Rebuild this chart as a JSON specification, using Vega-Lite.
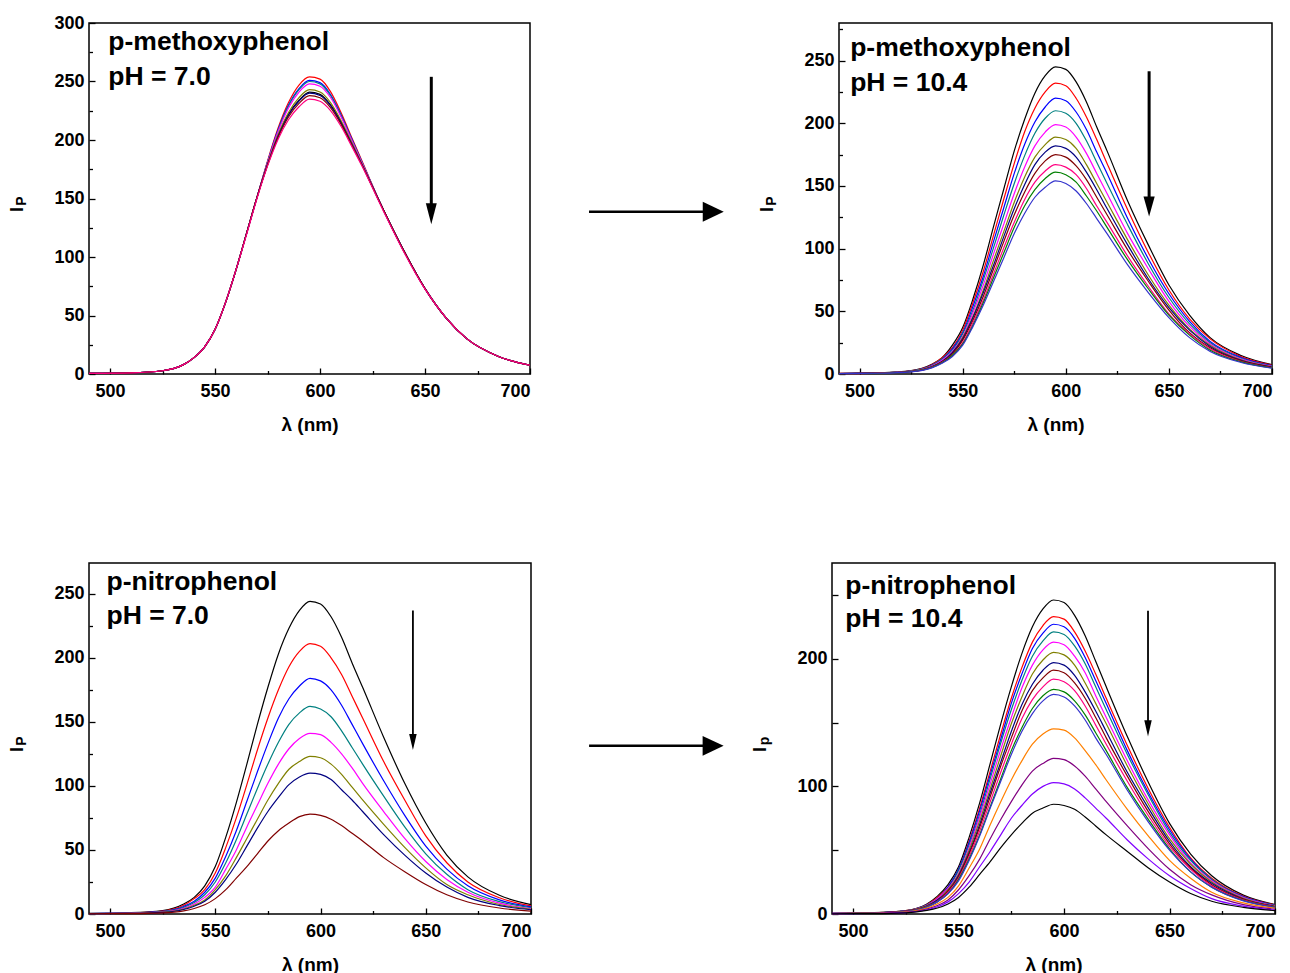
{
"$schema": "https://vega.github.io/schema/vega-lite/v6.json",
"background": "#ffffff",
"padding": {"left": 8, "top": 13, "right": 2, "bottom": 2},
"spacing": 127,
"config": {
  "view": {"stroke": "#000000", "strokeWidth": 1.5},
  "font": "Liberation Sans",
  "axis": {"labelFont": "Liberation Sans", "labelFontSize": 18, "labelFontWeight": "bold", "labelColor": "#000000", "titleFont": "Liberation Sans", "titleFontSize": 19, "titleFontWeight": "bold", "titleColor": "#000000", "tickColor": "#000000", "tickWidth": 1.3, "domain": false, "grid": false}
},
"datasets": {
"m7": [
{"s":0,"x":490,"y":0.5},{"s":0,"x":510,"y":1},{"s":0,"x":525,"y":2.8},{"s":0,"x":535,"y":8},{"s":0,"x":540,"y":14},{"s":0,"x":545,"y":23},{"s":0,"x":550,"y":38},{"s":0,"x":555,"y":61},{"s":0,"x":560,"y":89},{"s":0,"x":565,"y":120},{"s":0,"x":570,"y":151},{"s":0,"x":575,"y":179},{"s":0,"x":580,"y":203.5},{"s":0,"x":585,"y":222},{"s":0,"x":590,"y":234},{"s":0,"x":595,"y":241},{"s":0,"x":600,"y":239},{"s":0,"x":605,"y":230},{"s":0,"x":610,"y":215.4},{"s":0,"x":615,"y":197.4},{"s":0,"x":620,"y":179},{"s":0,"x":630,"y":141},{"s":0,"x":640,"y":105},{"s":0,"x":650,"y":73},{"s":0,"x":660,"y":48},{"s":0,"x":670,"y":30},{"s":0,"x":685,"y":15},{"s":0,"x":700,"y":7.5},
{"s":1,"x":490,"y":0.5},{"s":1,"x":510,"y":1},{"s":1,"x":525,"y":2.8},{"s":1,"x":535,"y":8},{"s":1,"x":540,"y":14},{"s":1,"x":545,"y":23},{"s":1,"x":550,"y":38},{"s":1,"x":555,"y":61},{"s":1,"x":560,"y":89},{"s":1,"x":565,"y":120},{"s":1,"x":570,"y":151},{"s":1,"x":575,"y":182},{"s":1,"x":580,"y":210},{"s":1,"x":585,"y":232},{"s":1,"x":590,"y":247},{"s":1,"x":595,"y":254},{"s":1,"x":600,"y":252},{"s":1,"x":605,"y":241.4},{"s":1,"x":610,"y":223.5},{"s":1,"x":615,"y":202.6},{"s":1,"x":620,"y":182},{"s":1,"x":630,"y":141},{"s":1,"x":640,"y":105},{"s":1,"x":650,"y":73},{"s":1,"x":660,"y":48},{"s":1,"x":670,"y":30},{"s":1,"x":685,"y":15},{"s":1,"x":700,"y":7.5},
{"s":2,"x":490,"y":0.5},{"s":2,"x":510,"y":1},{"s":2,"x":525,"y":2.8},{"s":2,"x":535,"y":8},{"s":2,"x":540,"y":14},{"s":2,"x":545,"y":23},{"s":2,"x":550,"y":38},{"s":2,"x":555,"y":61},{"s":2,"x":560,"y":89},{"s":2,"x":565,"y":120},{"s":2,"x":570,"y":151},{"s":2,"x":575,"y":181},{"s":2,"x":580,"y":208.5},{"s":2,"x":585,"y":229.8},{"s":2,"x":590,"y":244},{"s":2,"x":595,"y":251},{"s":2,"x":600,"y":249},{"s":2,"x":605,"y":238.9},{"s":2,"x":610,"y":221.6},{"s":2,"x":615,"y":201.4},{"s":2,"x":620,"y":181},{"s":2,"x":630,"y":141},{"s":2,"x":640,"y":105},{"s":2,"x":650,"y":73},{"s":2,"x":660,"y":48},{"s":2,"x":670,"y":30},{"s":2,"x":685,"y":15},{"s":2,"x":700,"y":7.5},
{"s":3,"x":490,"y":0.5},{"s":3,"x":510,"y":1},{"s":3,"x":525,"y":2.8},{"s":3,"x":535,"y":8},{"s":3,"x":540,"y":14},{"s":3,"x":545,"y":23},{"s":3,"x":550,"y":38},{"s":3,"x":555,"y":61},{"s":3,"x":560,"y":89},{"s":3,"x":565,"y":120},{"s":3,"x":570,"y":151},{"s":3,"x":575,"y":181},{"s":3,"x":580,"y":208},{"s":3,"x":585,"y":229},{"s":3,"x":590,"y":243},{"s":3,"x":595,"y":250},{"s":3,"x":600,"y":248},{"s":3,"x":605,"y":238},{"s":3,"x":610,"y":221},{"s":3,"x":615,"y":201},{"s":3,"x":620,"y":181},{"s":3,"x":630,"y":141},{"s":3,"x":640,"y":105},{"s":3,"x":650,"y":73},{"s":3,"x":660,"y":48},{"s":3,"x":670,"y":30},{"s":3,"x":685,"y":15},{"s":3,"x":700,"y":7.5},
{"s":4,"x":490,"y":0.5},{"s":4,"x":510,"y":1},{"s":4,"x":525,"y":2.8},{"s":4,"x":535,"y":8},{"s":4,"x":540,"y":14},{"s":4,"x":545,"y":23},{"s":4,"x":550,"y":38},{"s":4,"x":555,"y":61},{"s":4,"x":560,"y":89},{"s":4,"x":565,"y":120},{"s":4,"x":570,"y":151},{"s":4,"x":575,"y":180.6},{"s":4,"x":580,"y":207},{"s":4,"x":585,"y":227.4},{"s":4,"x":590,"y":241},{"s":4,"x":595,"y":248},{"s":4,"x":600,"y":246},{"s":4,"x":605,"y":236.3},{"s":4,"x":610,"y":219.8},{"s":4,"x":615,"y":200.2},{"s":4,"x":620,"y":180.6},{"s":4,"x":630,"y":141},{"s":4,"x":640,"y":105},{"s":4,"x":650,"y":73},{"s":4,"x":660,"y":48},{"s":4,"x":670,"y":30},{"s":4,"x":685,"y":15},{"s":4,"x":700,"y":7.5},
{"s":5,"x":490,"y":0.5},{"s":5,"x":510,"y":1},{"s":5,"x":525,"y":2.8},{"s":5,"x":535,"y":8},{"s":5,"x":540,"y":14},{"s":5,"x":545,"y":23},{"s":5,"x":550,"y":38},{"s":5,"x":555,"y":61},{"s":5,"x":560,"y":89},{"s":5,"x":565,"y":120},{"s":5,"x":570,"y":151},{"s":5,"x":575,"y":179.5},{"s":5,"x":580,"y":204.5},{"s":5,"x":585,"y":223.5},{"s":5,"x":590,"y":236.2},{"s":5,"x":595,"y":243},{"s":5,"x":600,"y":241},{"s":5,"x":605,"y":232},{"s":5,"x":610,"y":216.7},{"s":5,"x":615,"y":198.2},{"s":5,"x":620,"y":179.5},{"s":5,"x":630,"y":141},{"s":5,"x":640,"y":105},{"s":5,"x":650,"y":73},{"s":5,"x":660,"y":48},{"s":5,"x":670,"y":30},{"s":5,"x":685,"y":15},{"s":5,"x":700,"y":7.5},
{"s":6,"x":490,"y":0.5},{"s":6,"x":510,"y":1},{"s":6,"x":525,"y":2.8},{"s":6,"x":535,"y":8},{"s":6,"x":540,"y":14},{"s":6,"x":545,"y":23},{"s":6,"x":550,"y":38},{"s":6,"x":555,"y":61},{"s":6,"x":560,"y":89},{"s":6,"x":565,"y":120},{"s":6,"x":570,"y":151},{"s":6,"x":575,"y":178.8},{"s":6,"x":580,"y":203},{"s":6,"x":585,"y":221.2},{"s":6,"x":590,"y":233.3},{"s":6,"x":595,"y":240},{"s":6,"x":600,"y":238},{"s":6,"x":605,"y":229.4},{"s":6,"x":610,"y":214.8},{"s":6,"x":615,"y":197},{"s":6,"x":620,"y":178.8},{"s":6,"x":630,"y":141},{"s":6,"x":640,"y":105},{"s":6,"x":650,"y":73},{"s":6,"x":660,"y":48},{"s":6,"x":670,"y":30},{"s":6,"x":685,"y":15},{"s":6,"x":700,"y":7.5},
{"s":7,"x":490,"y":0.5},{"s":7,"x":510,"y":1},{"s":7,"x":525,"y":2.8},{"s":7,"x":535,"y":8},{"s":7,"x":540,"y":14},{"s":7,"x":545,"y":23},{"s":7,"x":550,"y":38},{"s":7,"x":555,"y":61},{"s":7,"x":560,"y":89},{"s":7,"x":565,"y":120},{"s":7,"x":570,"y":151},{"s":7,"x":575,"y":178.4},{"s":7,"x":580,"y":202},{"s":7,"x":585,"y":219.7},{"s":7,"x":590,"y":231.3},{"s":7,"x":595,"y":238},{"s":7,"x":600,"y":236.1},{"s":7,"x":605,"y":227.7},{"s":7,"x":610,"y":213.6},{"s":7,"x":615,"y":196.2},{"s":7,"x":620,"y":178.4},{"s":7,"x":630,"y":141},{"s":7,"x":640,"y":105},{"s":7,"x":650,"y":73},{"s":7,"x":660,"y":48},{"s":7,"x":670,"y":30},{"s":7,"x":685,"y":15},{"s":7,"x":700,"y":7.5},
{"s":8,"x":490,"y":0.5},{"s":8,"x":510,"y":1},{"s":8,"x":525,"y":2.8},{"s":8,"x":535,"y":8},{"s":8,"x":540,"y":14},{"s":8,"x":545,"y":23},{"s":8,"x":550,"y":38},{"s":8,"x":555,"y":61},{"s":8,"x":560,"y":89},{"s":8,"x":565,"y":119},{"s":8,"x":570,"y":150},{"s":8,"x":575,"y":177.7},{"s":8,"x":580,"y":200.5},{"s":8,"x":585,"y":217.3},{"s":8,"x":590,"y":228.4},{"s":8,"x":595,"y":235},{"s":8,"x":600,"y":233.1},{"s":8,"x":605,"y":225.1},{"s":8,"x":610,"y":211.7},{"s":8,"x":615,"y":195},{"s":8,"x":620,"y":177.7},{"s":8,"x":630,"y":140},{"s":8,"x":640,"y":104},{"s":8,"x":650,"y":72.5},{"s":8,"x":660,"y":48},{"s":8,"x":670,"y":30},{"s":8,"x":685,"y":15},{"s":8,"x":700,"y":7.5}
],
"m10": [
{"s":9,"x":490,"y":0.5},{"s":9,"x":510,"y":1},{"s":9,"x":525,"y":2.7},{"s":9,"x":535,"y":7.8},{"s":9,"x":540,"y":13},{"s":9,"x":545,"y":23},{"s":9,"x":550,"y":37},{"s":9,"x":555,"y":60},{"s":9,"x":560,"y":87},{"s":9,"x":565,"y":118},{"s":9,"x":570,"y":148},{"s":9,"x":575,"y":178},{"s":9,"x":580,"y":203},{"s":9,"x":585,"y":224},{"s":9,"x":590,"y":238},{"s":9,"x":595,"y":245},{"s":9,"x":600,"y":243},{"s":9,"x":605,"y":233},{"s":9,"x":610,"y":217},{"s":9,"x":615,"y":197},{"s":9,"x":620,"y":178},{"s":9,"x":630,"y":138},{"s":9,"x":640,"y":103},{"s":9,"x":650,"y":71},{"s":9,"x":660,"y":47},{"s":9,"x":670,"y":29},{"s":9,"x":685,"y":14.7},{"s":9,"x":700,"y":7.4},
{"s":10,"x":490,"y":0.5},{"s":10,"x":510,"y":0.9},{"s":10,"x":525,"y":2.6},{"s":10,"x":535,"y":7.4},{"s":10,"x":540,"y":13},{"s":10,"x":545,"y":21},{"s":10,"x":550,"y":35},{"s":10,"x":555,"y":57},{"s":10,"x":560,"y":82},{"s":10,"x":565,"y":111},{"s":10,"x":570,"y":140},{"s":10,"x":575,"y":168},{"s":10,"x":580,"y":193},{"s":10,"x":585,"y":212},{"s":10,"x":590,"y":225},{"s":10,"x":595,"y":232},{"s":10,"x":600,"y":230},{"s":10,"x":605,"y":220},{"s":10,"x":610,"y":205},{"s":10,"x":615,"y":187},{"s":10,"x":620,"y":168},{"s":10,"x":630,"y":131},{"s":10,"x":640,"y":97},{"s":10,"x":650,"y":67},{"s":10,"x":660,"y":44},{"s":10,"x":670,"y":28},{"s":10,"x":685,"y":13.9},{"s":10,"x":700,"y":7},
{"s":11,"x":490,"y":0.4},{"s":11,"x":510,"y":0.9},{"s":11,"x":525,"y":2.4},{"s":11,"x":535,"y":7},{"s":11,"x":540,"y":12},{"s":11,"x":545,"y":20},{"s":11,"x":550,"y":33},{"s":11,"x":555,"y":54},{"s":11,"x":560,"y":78},{"s":11,"x":565,"y":106},{"s":11,"x":570,"y":133},{"s":11,"x":575,"y":160},{"s":11,"x":580,"y":183},{"s":11,"x":585,"y":201},{"s":11,"x":590,"y":213},{"s":11,"x":595,"y":220},{"s":11,"x":600,"y":218},{"s":11,"x":605,"y":209},{"s":11,"x":610,"y":195},{"s":11,"x":615,"y":177},{"s":11,"x":620,"y":160},{"s":11,"x":630,"y":124},{"s":11,"x":640,"y":92},{"s":11,"x":650,"y":64},{"s":11,"x":660,"y":42},{"s":11,"x":670,"y":26},{"s":11,"x":685,"y":13.2},{"s":11,"x":700,"y":6.6},
{"s":12,"x":490,"y":0.4},{"s":12,"x":510,"y":0.8},{"s":12,"x":525,"y":2.3},{"s":12,"x":535,"y":6.7},{"s":12,"x":540,"y":12},{"s":12,"x":545,"y":19},{"s":12,"x":550,"y":32},{"s":12,"x":555,"y":51},{"s":12,"x":560,"y":75},{"s":12,"x":565,"y":101},{"s":12,"x":570,"y":127},{"s":12,"x":575,"y":152},{"s":12,"x":580,"y":174},{"s":12,"x":585,"y":192},{"s":12,"x":590,"y":204},{"s":12,"x":595,"y":210},{"s":12,"x":600,"y":208},{"s":12,"x":605,"y":200},{"s":12,"x":610,"y":186},{"s":12,"x":615,"y":169},{"s":12,"x":620,"y":152},{"s":12,"x":630,"y":119},{"s":12,"x":640,"y":88},{"s":12,"x":650,"y":61},{"s":12,"x":660,"y":40},{"s":12,"x":670,"y":25},{"s":12,"x":685,"y":12.6},{"s":12,"x":700,"y":6.3},
{"s":13,"x":490,"y":0.4},{"s":13,"x":510,"y":0.8},{"s":13,"x":525,"y":2.2},{"s":13,"x":535,"y":6.4},{"s":13,"x":540,"y":11},{"s":13,"x":545,"y":18},{"s":13,"x":550,"y":30},{"s":13,"x":555,"y":49},{"s":13,"x":560,"y":71},{"s":13,"x":565,"y":96},{"s":13,"x":570,"y":120},{"s":13,"x":575,"y":144},{"s":13,"x":580,"y":165},{"s":13,"x":585,"y":182},{"s":13,"x":590,"y":193},{"s":13,"x":595,"y":199},{"s":13,"x":600,"y":197},{"s":13,"x":605,"y":189},{"s":13,"x":610,"y":176},{"s":13,"x":615,"y":160},{"s":13,"x":620,"y":144},{"s":13,"x":630,"y":112},{"s":13,"x":640,"y":84},{"s":13,"x":650,"y":58},{"s":13,"x":660,"y":38},{"s":13,"x":670,"y":24},{"s":13,"x":685,"y":11.9},{"s":13,"x":700,"y":6},
{"s":14,"x":490,"y":0.4},{"s":14,"x":510,"y":0.8},{"s":14,"x":525,"y":2.1},{"s":14,"x":535,"y":6},{"s":14,"x":540,"y":10},{"s":14,"x":545,"y":17},{"s":14,"x":550,"y":29},{"s":14,"x":555,"y":46},{"s":14,"x":560,"y":67},{"s":14,"x":565,"y":91},{"s":14,"x":570,"y":114},{"s":14,"x":575,"y":137},{"s":14,"x":580,"y":157},{"s":14,"x":585,"y":173},{"s":14,"x":590,"y":183},{"s":14,"x":595,"y":189},{"s":14,"x":600,"y":187},{"s":14,"x":605,"y":180},{"s":14,"x":610,"y":167},{"s":14,"x":615,"y":152},{"s":14,"x":620,"y":137},{"s":14,"x":630,"y":107},{"s":14,"x":640,"y":79},{"s":14,"x":650,"y":55},{"s":14,"x":660,"y":36},{"s":14,"x":670,"y":23},{"s":14,"x":685,"y":11.3},{"s":14,"x":700,"y":5.7},
{"s":15,"x":490,"y":0.4},{"s":15,"x":510,"y":0.7},{"s":15,"x":525,"y":2},{"s":15,"x":535,"y":5.8},{"s":15,"x":540,"y":10},{"s":15,"x":545,"y":17},{"s":15,"x":550,"y":28},{"s":15,"x":555,"y":45},{"s":15,"x":560,"y":65},{"s":15,"x":565,"y":87},{"s":15,"x":570,"y":110},{"s":15,"x":575,"y":132},{"s":15,"x":580,"y":151},{"s":15,"x":585,"y":167},{"s":15,"x":590,"y":177},{"s":15,"x":595,"y":182},{"s":15,"x":600,"y":180},{"s":15,"x":605,"y":173},{"s":15,"x":610,"y":161},{"s":15,"x":615,"y":147},{"s":15,"x":620,"y":132},{"s":15,"x":630,"y":103},{"s":15,"x":640,"y":76},{"s":15,"x":650,"y":53},{"s":15,"x":660,"y":35},{"s":15,"x":670,"y":22},{"s":15,"x":685,"y":10.9},{"s":15,"x":700,"y":5.5},
{"s":16,"x":490,"y":0.4},{"s":16,"x":510,"y":0.7},{"s":16,"x":525,"y":1.9},{"s":16,"x":535,"y":5.6},{"s":16,"x":540,"y":9.6},{"s":16,"x":545,"y":16},{"s":16,"x":550,"y":27},{"s":16,"x":555,"y":43},{"s":16,"x":560,"y":62},{"s":16,"x":565,"y":84},{"s":16,"x":570,"y":106},{"s":16,"x":575,"y":127},{"s":16,"x":580,"y":145},{"s":16,"x":585,"y":160},{"s":16,"x":590,"y":170},{"s":16,"x":595,"y":175},{"s":16,"x":600,"y":173},{"s":16,"x":605,"y":166},{"s":16,"x":610,"y":155},{"s":16,"x":615,"y":141},{"s":16,"x":620,"y":127},{"s":16,"x":630,"y":99},{"s":16,"x":640,"y":74},{"s":16,"x":650,"y":51},{"s":16,"x":660,"y":33},{"s":16,"x":670,"y":21},{"s":16,"x":685,"y":10.5},{"s":16,"x":700,"y":5.3},
{"s":17,"x":490,"y":0.3},{"s":17,"x":510,"y":0.7},{"s":17,"x":525,"y":1.8},{"s":17,"x":535,"y":5.3},{"s":17,"x":540,"y":9.2},{"s":17,"x":545,"y":15},{"s":17,"x":550,"y":25},{"s":17,"x":555,"y":41},{"s":17,"x":560,"y":59},{"s":17,"x":565,"y":80},{"s":17,"x":570,"y":101},{"s":17,"x":575,"y":121},{"s":17,"x":580,"y":139},{"s":17,"x":585,"y":153},{"s":17,"x":590,"y":162},{"s":17,"x":595,"y":167},{"s":17,"x":600,"y":165},{"s":17,"x":605,"y":159},{"s":17,"x":610,"y":148},{"s":17,"x":615,"y":134},{"s":17,"x":620,"y":121},{"s":17,"x":630,"y":94},{"s":17,"x":640,"y":70},{"s":17,"x":650,"y":48},{"s":17,"x":660,"y":32},{"s":17,"x":670,"y":20},{"s":17,"x":685,"y":10},{"s":17,"x":700,"y":5},
{"s":18,"x":490,"y":0.3},{"s":18,"x":510,"y":0.6},{"s":18,"x":525,"y":1.8},{"s":18,"x":535,"y":5.2},{"s":18,"x":540,"y":8.9},{"s":18,"x":545,"y":15},{"s":18,"x":550,"y":24},{"s":18,"x":555,"y":39},{"s":18,"x":560,"y":57},{"s":18,"x":565,"y":77},{"s":18,"x":570,"y":97},{"s":18,"x":575,"y":117},{"s":18,"x":580,"y":134},{"s":18,"x":585,"y":147},{"s":18,"x":590,"y":156},{"s":18,"x":595,"y":161},{"s":18,"x":600,"y":159},{"s":18,"x":605,"y":153},{"s":18,"x":610,"y":142},{"s":18,"x":615,"y":130},{"s":18,"x":620,"y":117},{"s":18,"x":630,"y":91},{"s":18,"x":640,"y":68},{"s":18,"x":650,"y":47},{"s":18,"x":660,"y":31},{"s":18,"x":670,"y":19},{"s":18,"x":685,"y":9.7},{"s":18,"x":700,"y":4.8},
{"s":19,"x":490,"y":0.3},{"s":19,"x":510,"y":0.6},{"s":19,"x":525,"y":1.7},{"s":19,"x":535,"y":4.9},{"s":19,"x":540,"y":8.5},{"s":19,"x":545,"y":14},{"s":19,"x":550,"y":23},{"s":19,"x":555,"y":38},{"s":19,"x":560,"y":55},{"s":19,"x":565,"y":74},{"s":19,"x":570,"y":93},{"s":19,"x":575,"y":112},{"s":19,"x":580,"y":128},{"s":19,"x":585,"y":141},{"s":19,"x":590,"y":149},{"s":19,"x":595,"y":154},{"s":19,"x":600,"y":152},{"s":19,"x":605,"y":146},{"s":19,"x":610,"y":136},{"s":19,"x":615,"y":124},{"s":19,"x":620,"y":112},{"s":19,"x":630,"y":87},{"s":19,"x":640,"y":65},{"s":19,"x":650,"y":45},{"s":19,"x":660,"y":29},{"s":19,"x":670,"y":18},{"s":19,"x":685,"y":9.2},{"s":19,"x":700,"y":4.6}
],
"n7": [
{"s":20,"x":490,"y":0.5},{"s":20,"x":510,"y":1},{"s":20,"x":525,"y":2.7},{"s":20,"x":535,"y":7.8},{"s":20,"x":540,"y":13},{"s":20,"x":545,"y":22},{"s":20,"x":550,"y":37},{"s":20,"x":555,"y":60},{"s":20,"x":560,"y":87},{"s":20,"x":565,"y":117},{"s":20,"x":570,"y":148},{"s":20,"x":575,"y":177},{"s":20,"x":580,"y":203},{"s":20,"x":585,"y":223},{"s":20,"x":590,"y":237},{"s":20,"x":595,"y":244},{"s":20,"x":600,"y":242},{"s":20,"x":605,"y":232},{"s":20,"x":610,"y":216},{"s":20,"x":615,"y":196},{"s":20,"x":620,"y":177},{"s":20,"x":630,"y":138},{"s":20,"x":640,"y":102},{"s":20,"x":650,"y":71},{"s":20,"x":660,"y":46},{"s":20,"x":670,"y":29},{"s":20,"x":685,"y":14.6},{"s":20,"x":700,"y":7.3},
{"s":21,"x":490,"y":0.4},{"s":21,"x":510,"y":0.8},{"s":21,"x":525,"y":2.3},{"s":21,"x":535,"y":6.8},{"s":21,"x":540,"y":12},{"s":21,"x":545,"y":19},{"s":21,"x":550,"y":32},{"s":21,"x":555,"y":52},{"s":21,"x":560,"y":75},{"s":21,"x":565,"y":101},{"s":21,"x":570,"y":128},{"s":21,"x":575,"y":153},{"s":21,"x":580,"y":175},{"s":21,"x":585,"y":193},{"s":21,"x":590,"y":205},{"s":21,"x":595,"y":211},{"s":21,"x":600,"y":209},{"s":21,"x":605,"y":200},{"s":21,"x":610,"y":187},{"s":21,"x":615,"y":170},{"s":21,"x":620,"y":153},{"s":21,"x":630,"y":119},{"s":21,"x":640,"y":89},{"s":21,"x":650,"y":61},{"s":21,"x":660,"y":40},{"s":21,"x":670,"y":25},{"s":21,"x":685,"y":12.7},{"s":21,"x":700,"y":6.3},
{"s":22,"x":490,"y":0.4},{"s":22,"x":510,"y":0.7},{"s":22,"x":525,"y":2},{"s":22,"x":535,"y":5.9},{"s":22,"x":540,"y":10},{"s":22,"x":545,"y":17},{"s":22,"x":550,"y":28},{"s":22,"x":555,"y":45},{"s":22,"x":560,"y":65},{"s":22,"x":565,"y":88},{"s":22,"x":570,"y":111},{"s":22,"x":575,"y":133},{"s":22,"x":580,"y":153},{"s":22,"x":585,"y":168},{"s":22,"x":590,"y":178},{"s":22,"x":595,"y":184},{"s":22,"x":600,"y":182},{"s":22,"x":605,"y":175},{"s":22,"x":610,"y":163},{"s":22,"x":615,"y":148},{"s":22,"x":620,"y":133},{"s":22,"x":630,"y":104},{"s":22,"x":640,"y":77},{"s":22,"x":650,"y":53},{"s":22,"x":660,"y":35},{"s":22,"x":670,"y":22},{"s":22,"x":685,"y":11},{"s":22,"x":700,"y":5.5},
{"s":23,"x":490,"y":0.3},{"s":23,"x":510,"y":0.6},{"s":23,"x":525,"y":1.8},{"s":23,"x":535,"y":5.2},{"s":23,"x":540,"y":8.9},{"s":23,"x":545,"y":15},{"s":23,"x":550,"y":25},{"s":23,"x":555,"y":40},{"s":23,"x":560,"y":58},{"s":23,"x":565,"y":78},{"s":23,"x":570,"y":98},{"s":23,"x":575,"y":117},{"s":23,"x":580,"y":134},{"s":23,"x":585,"y":148},{"s":23,"x":590,"y":157},{"s":23,"x":595,"y":162},{"s":23,"x":600,"y":160},{"s":23,"x":605,"y":154},{"s":23,"x":610,"y":143},{"s":23,"x":615,"y":130},{"s":23,"x":620,"y":117},{"s":23,"x":630,"y":92},{"s":23,"x":640,"y":68},{"s":23,"x":650,"y":47},{"s":23,"x":660,"y":31},{"s":23,"x":670,"y":19},{"s":23,"x":685,"y":9.7},{"s":23,"x":700,"y":4.9},
{"s":24,"x":490,"y":0.3},{"s":24,"x":510,"y":0.6},{"s":24,"x":525,"y":1.6},{"s":24,"x":535,"y":4.5},{"s":24,"x":540,"y":7.8},{"s":24,"x":545,"y":13},{"s":24,"x":550,"y":21},{"s":24,"x":555,"y":35},{"s":24,"x":560,"y":50},{"s":24,"x":565,"y":68},{"s":24,"x":570,"y":85},{"s":24,"x":575,"y":102},{"s":24,"x":580,"y":117},{"s":24,"x":585,"y":129},{"s":24,"x":590,"y":137},{"s":24,"x":595,"y":141},{"s":24,"x":600,"y":140},{"s":24,"x":605,"y":134},{"s":24,"x":610,"y":125},{"s":24,"x":615,"y":114},{"s":24,"x":620,"y":102},{"s":24,"x":630,"y":80},{"s":24,"x":640,"y":59},{"s":24,"x":650,"y":41},{"s":24,"x":660,"y":27},{"s":24,"x":670,"y":17},{"s":24,"x":685,"y":8.5},{"s":24,"x":700,"y":4.2},
{"s":25,"x":490,"y":0.2},{"s":25,"x":510,"y":0.5},{"s":25,"x":525,"y":1.4},{"s":25,"x":535,"y":3.9},{"s":25,"x":540,"y":6.8},{"s":25,"x":545,"y":11},{"s":25,"x":550,"y":19},{"s":25,"x":555,"y":30},{"s":25,"x":560,"y":44},{"s":25,"x":565,"y":59},{"s":25,"x":570,"y":74},{"s":25,"x":575,"y":89},{"s":25,"x":580,"y":102},{"s":25,"x":585,"y":113},{"s":25,"x":590,"y":119},{"s":25,"x":595,"y":123},{"s":25,"x":600,"y":122},{"s":25,"x":605,"y":117},{"s":25,"x":610,"y":109},{"s":25,"x":615,"y":99},{"s":25,"x":620,"y":89},{"s":25,"x":630,"y":70},{"s":25,"x":640,"y":52},{"s":25,"x":650,"y":36},{"s":25,"x":660,"y":23},{"s":25,"x":670,"y":15},{"s":25,"x":685,"y":7.4},{"s":25,"x":700,"y":3.7},
{"s":26,"x":490,"y":0.2},{"s":26,"x":510,"y":0.4},{"s":26,"x":525,"y":1.2},{"s":26,"x":535,"y":3.5},{"s":26,"x":540,"y":6.1},{"s":26,"x":545,"y":10},{"s":26,"x":550,"y":17},{"s":26,"x":555,"y":27},{"s":26,"x":560,"y":39},{"s":26,"x":565,"y":53},{"s":26,"x":570,"y":67},{"s":26,"x":575,"y":80},{"s":26,"x":580,"y":91},{"s":26,"x":585,"y":101},{"s":26,"x":590,"y":107},{"s":26,"x":595,"y":110},{"s":26,"x":600,"y":109},{"s":26,"x":605,"y":105},{"s":26,"x":610,"y":97},{"s":26,"x":615,"y":89},{"s":26,"x":620,"y":80},{"s":26,"x":630,"y":62},{"s":26,"x":640,"y":46},{"s":26,"x":650,"y":32},{"s":26,"x":660,"y":21},{"s":26,"x":670,"y":13},{"s":26,"x":685,"y":6.6},{"s":26,"x":700,"y":3.3},
{"s":27,"x":490,"y":0.2},{"s":27,"x":510,"y":0.3},{"s":27,"x":525,"y":0.9},{"s":27,"x":535,"y":2.5},{"s":27,"x":540,"y":4.3},{"s":27,"x":545,"y":7.2},{"s":27,"x":550,"y":12},{"s":27,"x":555,"y":19},{"s":27,"x":560,"y":28},{"s":27,"x":565,"y":37},{"s":27,"x":570,"y":47},{"s":27,"x":575,"y":57},{"s":27,"x":580,"y":65},{"s":27,"x":585,"y":71},{"s":27,"x":590,"y":76},{"s":27,"x":595,"y":78},{"s":27,"x":600,"y":77},{"s":27,"x":605,"y":74},{"s":27,"x":610,"y":69},{"s":27,"x":615,"y":63},{"s":27,"x":620,"y":57},{"s":27,"x":630,"y":44},{"s":27,"x":640,"y":33},{"s":27,"x":650,"y":23},{"s":27,"x":660,"y":15},{"s":27,"x":670,"y":9.4},{"s":27,"x":685,"y":4.7},{"s":27,"x":700,"y":2.3}
],
"n10": [
{"s":28,"x":490,"y":0.5},{"s":28,"x":510,"y":1},{"s":28,"x":525,"y":2.7},{"s":28,"x":535,"y":7.9},{"s":28,"x":540,"y":14},{"s":28,"x":545,"y":23},{"s":28,"x":550,"y":37},{"s":28,"x":555,"y":60},{"s":28,"x":560,"y":87},{"s":28,"x":565,"y":118},{"s":28,"x":570,"y":149},{"s":28,"x":575,"y":178},{"s":28,"x":580,"y":204},{"s":28,"x":585,"y":225},{"s":28,"x":590,"y":239},{"s":28,"x":595,"y":246},{"s":28,"x":600,"y":244},{"s":28,"x":605,"y":234},{"s":28,"x":610,"y":218},{"s":28,"x":615,"y":198},{"s":28,"x":620,"y":178},{"s":28,"x":630,"y":139},{"s":28,"x":640,"y":103},{"s":28,"x":650,"y":71},{"s":28,"x":660,"y":47},{"s":28,"x":670,"y":30},{"s":28,"x":685,"y":14.8},{"s":28,"x":700,"y":7.4},
{"s":29,"x":490,"y":0.5},{"s":29,"x":510,"y":0.9},{"s":29,"x":525,"y":2.6},{"s":29,"x":535,"y":7.5},{"s":29,"x":540,"y":13},{"s":29,"x":545,"y":21},{"s":29,"x":550,"y":35},{"s":29,"x":555,"y":57},{"s":29,"x":560,"y":83},{"s":29,"x":565,"y":112},{"s":29,"x":570,"y":141},{"s":29,"x":575,"y":169},{"s":29,"x":580,"y":193},{"s":29,"x":585,"y":213},{"s":29,"x":590,"y":226},{"s":29,"x":595,"y":233},{"s":29,"x":600,"y":231},{"s":29,"x":605,"y":221},{"s":29,"x":610,"y":206},{"s":29,"x":615,"y":188},{"s":29,"x":620,"y":169},{"s":29,"x":630,"y":132},{"s":29,"x":640,"y":98},{"s":29,"x":650,"y":68},{"s":29,"x":660,"y":44},{"s":29,"x":670,"y":28},{"s":29,"x":685,"y":14},{"s":29,"x":700,"y":7},
{"s":30,"x":490,"y":0.5},{"s":30,"x":510,"y":0.9},{"s":30,"x":525,"y":2.5},{"s":30,"x":535,"y":7.3},{"s":30,"x":540,"y":12},{"s":30,"x":545,"y":21},{"s":30,"x":550,"y":35},{"s":30,"x":555,"y":56},{"s":30,"x":560,"y":81},{"s":30,"x":565,"y":109},{"s":30,"x":570,"y":137},{"s":30,"x":575,"y":165},{"s":30,"x":580,"y":188},{"s":30,"x":585,"y":208},{"s":30,"x":590,"y":220},{"s":30,"x":595,"y":227},{"s":30,"x":600,"y":225},{"s":30,"x":605,"y":216},{"s":30,"x":610,"y":201},{"s":30,"x":615,"y":183},{"s":30,"x":620,"y":165},{"s":30,"x":630,"y":128},{"s":30,"x":640,"y":95},{"s":30,"x":650,"y":66},{"s":30,"x":660,"y":43},{"s":30,"x":670,"y":27},{"s":30,"x":685,"y":13.6},{"s":30,"x":700,"y":6.8},
{"s":31,"x":490,"y":0.4},{"s":31,"x":510,"y":0.9},{"s":31,"x":525,"y":2.4},{"s":31,"x":535,"y":7.1},{"s":31,"x":540,"y":12},{"s":31,"x":545,"y":20},{"s":31,"x":550,"y":34},{"s":31,"x":555,"y":54},{"s":31,"x":560,"y":78},{"s":31,"x":565,"y":106},{"s":31,"x":570,"y":134},{"s":31,"x":575,"y":160},{"s":31,"x":580,"y":183},{"s":31,"x":585,"y":202},{"s":31,"x":590,"y":214},{"s":31,"x":595,"y":221},{"s":31,"x":600,"y":219},{"s":31,"x":605,"y":210},{"s":31,"x":610,"y":196},{"s":31,"x":615,"y":178},{"s":31,"x":620,"y":160},{"s":31,"x":630,"y":125},{"s":31,"x":640,"y":93},{"s":31,"x":650,"y":64},{"s":31,"x":660,"y":42},{"s":31,"x":670,"y":27},{"s":31,"x":685,"y":13.3},{"s":31,"x":700,"y":6.6},
{"s":32,"x":490,"y":0.4},{"s":32,"x":510,"y":0.9},{"s":32,"x":525,"y":2.3},{"s":32,"x":535,"y":6.8},{"s":32,"x":540,"y":12},{"s":32,"x":545,"y":20},{"s":32,"x":550,"y":32},{"s":32,"x":555,"y":52},{"s":32,"x":560,"y":76},{"s":32,"x":565,"y":102},{"s":32,"x":570,"y":129},{"s":32,"x":575,"y":154},{"s":32,"x":580,"y":177},{"s":32,"x":585,"y":195},{"s":32,"x":590,"y":207},{"s":32,"x":595,"y":213},{"s":32,"x":600,"y":211},{"s":32,"x":605,"y":202},{"s":32,"x":610,"y":189},{"s":32,"x":615,"y":171},{"s":32,"x":620,"y":154},{"s":32,"x":630,"y":120},{"s":32,"x":640,"y":89},{"s":32,"x":650,"y":62},{"s":32,"x":660,"y":40},{"s":32,"x":670,"y":26},{"s":32,"x":685,"y":12.8},{"s":32,"x":700,"y":6.4},
{"s":33,"x":490,"y":0.4},{"s":33,"x":510,"y":0.8},{"s":33,"x":525,"y":2.3},{"s":33,"x":535,"y":6.6},{"s":33,"x":540,"y":11},{"s":33,"x":545,"y":19},{"s":33,"x":550,"y":31},{"s":33,"x":555,"y":50},{"s":33,"x":560,"y":73},{"s":33,"x":565,"y":98},{"s":33,"x":570,"y":124},{"s":33,"x":575,"y":149},{"s":33,"x":580,"y":170},{"s":33,"x":585,"y":188},{"s":33,"x":590,"y":199},{"s":33,"x":595,"y":205},{"s":33,"x":600,"y":203},{"s":33,"x":605,"y":195},{"s":33,"x":610,"y":181},{"s":33,"x":615,"y":165},{"s":33,"x":620,"y":149},{"s":33,"x":630,"y":116},{"s":33,"x":640,"y":86},{"s":33,"x":650,"y":59},{"s":33,"x":660,"y":39},{"s":33,"x":670,"y":25},{"s":33,"x":685,"y":12.3},{"s":33,"x":700,"y":6.2},
{"s":34,"x":490,"y":0.4},{"s":34,"x":510,"y":0.8},{"s":34,"x":525,"y":2.2},{"s":34,"x":535,"y":6.3},{"s":34,"x":540,"y":11},{"s":34,"x":545,"y":18},{"s":34,"x":550,"y":30},{"s":34,"x":555,"y":48},{"s":34,"x":560,"y":70},{"s":34,"x":565,"y":95},{"s":34,"x":570,"y":119},{"s":34,"x":575,"y":143},{"s":34,"x":580,"y":164},{"s":34,"x":585,"y":180},{"s":34,"x":590,"y":191},{"s":34,"x":595,"y":197},{"s":34,"x":600,"y":195},{"s":34,"x":605,"y":187},{"s":34,"x":610,"y":174},{"s":34,"x":615,"y":159},{"s":34,"x":620,"y":143},{"s":34,"x":630,"y":111},{"s":34,"x":640,"y":83},{"s":34,"x":650,"y":57},{"s":34,"x":660,"y":37},{"s":34,"x":670,"y":24},{"s":34,"x":685,"y":11.8},{"s":34,"x":700,"y":5.9},
{"s":35,"x":490,"y":0.4},{"s":35,"x":510,"y":0.8},{"s":35,"x":525,"y":2.1},{"s":35,"x":535,"y":6.1},{"s":35,"x":540,"y":10},{"s":35,"x":545,"y":18},{"s":35,"x":550,"y":29},{"s":35,"x":555,"y":47},{"s":35,"x":560,"y":68},{"s":35,"x":565,"y":92},{"s":35,"x":570,"y":116},{"s":35,"x":575,"y":138},{"s":35,"x":580,"y":159},{"s":35,"x":585,"y":175},{"s":35,"x":590,"y":185},{"s":35,"x":595,"y":191},{"s":35,"x":600,"y":189},{"s":35,"x":605,"y":181},{"s":35,"x":610,"y":169},{"s":35,"x":615,"y":154},{"s":35,"x":620,"y":138},{"s":35,"x":630,"y":108},{"s":35,"x":640,"y":80},{"s":35,"x":650,"y":55},{"s":35,"x":660,"y":36},{"s":35,"x":670,"y":23},{"s":35,"x":685,"y":11.5},{"s":35,"x":700,"y":5.7},
{"s":36,"x":490,"y":0.4},{"s":36,"x":510,"y":0.7},{"s":36,"x":525,"y":2},{"s":36,"x":535,"y":5.9},{"s":36,"x":540,"y":10},{"s":36,"x":545,"y":17},{"s":36,"x":550,"y":28},{"s":36,"x":555,"y":45},{"s":36,"x":560,"y":65},{"s":36,"x":565,"y":88},{"s":36,"x":570,"y":111},{"s":36,"x":575,"y":133},{"s":36,"x":580,"y":153},{"s":36,"x":585,"y":168},{"s":36,"x":590,"y":178},{"s":36,"x":595,"y":184},{"s":36,"x":600,"y":182},{"s":36,"x":605,"y":175},{"s":36,"x":610,"y":163},{"s":36,"x":615,"y":148},{"s":36,"x":620,"y":133},{"s":36,"x":630,"y":104},{"s":36,"x":640,"y":77},{"s":36,"x":650,"y":53},{"s":36,"x":660,"y":35},{"s":36,"x":670,"y":22},{"s":36,"x":685,"y":11},{"s":36,"x":700,"y":5.5},
{"s":37,"x":490,"y":0.4},{"s":37,"x":510,"y":0.7},{"s":37,"x":525,"y":1.9},{"s":37,"x":535,"y":5.6},{"s":37,"x":540,"y":9.7},{"s":37,"x":545,"y":16},{"s":37,"x":550,"y":27},{"s":37,"x":555,"y":43},{"s":37,"x":560,"y":62},{"s":37,"x":565,"y":84},{"s":37,"x":570,"y":106},{"s":37,"x":575,"y":128},{"s":37,"x":580,"y":146},{"s":37,"x":585,"y":161},{"s":37,"x":590,"y":171},{"s":37,"x":595,"y":176},{"s":37,"x":600,"y":174},{"s":37,"x":605,"y":167},{"s":37,"x":610,"y":156},{"s":37,"x":615,"y":142},{"s":37,"x":620,"y":128},{"s":37,"x":630,"y":99},{"s":37,"x":640,"y":74},{"s":37,"x":650,"y":51},{"s":37,"x":660,"y":33},{"s":37,"x":670,"y":21},{"s":37,"x":685,"y":10.6},{"s":37,"x":700,"y":5.3},
{"s":38,"x":490,"y":0.3},{"s":38,"x":510,"y":0.7},{"s":38,"x":525,"y":1.9},{"s":38,"x":535,"y":5.5},{"s":38,"x":540,"y":9.5},{"s":38,"x":545,"y":16},{"s":38,"x":550,"y":26},{"s":38,"x":555,"y":42},{"s":38,"x":560,"y":61},{"s":38,"x":565,"y":83},{"s":38,"x":570,"y":104},{"s":38,"x":575,"y":125},{"s":38,"x":580,"y":143},{"s":38,"x":585,"y":157},{"s":38,"x":590,"y":167},{"s":38,"x":595,"y":172},{"s":38,"x":600,"y":170},{"s":38,"x":605,"y":163},{"s":38,"x":610,"y":152},{"s":38,"x":615,"y":138},{"s":38,"x":620,"y":125},{"s":38,"x":630,"y":97},{"s":38,"x":640,"y":72},{"s":38,"x":650,"y":50},{"s":38,"x":660,"y":33},{"s":38,"x":670,"y":21},{"s":38,"x":685,"y":10.3},{"s":38,"x":700,"y":5.2},
{"s":39,"x":490,"y":0.3},{"s":39,"x":510,"y":0.6},{"s":39,"x":525,"y":1.6},{"s":39,"x":535,"y":4.6},{"s":39,"x":540,"y":8},{"s":39,"x":545,"y":13},{"s":39,"x":550,"y":22},{"s":39,"x":555,"y":36},{"s":39,"x":560,"y":51},{"s":39,"x":565,"y":70},{"s":39,"x":570,"y":88},{"s":39,"x":575,"y":105},{"s":39,"x":580,"y":120},{"s":39,"x":585,"y":133},{"s":39,"x":590,"y":141},{"s":39,"x":595,"y":145},{"s":39,"x":600,"y":144},{"s":39,"x":605,"y":138},{"s":39,"x":610,"y":128},{"s":39,"x":615,"y":117},{"s":39,"x":620,"y":105},{"s":39,"x":630,"y":82},{"s":39,"x":640,"y":61},{"s":39,"x":650,"y":42},{"s":39,"x":660,"y":28},{"s":39,"x":670,"y":17},{"s":39,"x":685,"y":8.7},{"s":39,"x":700,"y":4.4},
{"s":40,"x":490,"y":0.2},{"s":40,"x":510,"y":0.5},{"s":40,"x":525,"y":1.3},{"s":40,"x":535,"y":3.9},{"s":40,"x":540,"y":6.7},{"s":40,"x":545,"y":11},{"s":40,"x":550,"y":19},{"s":40,"x":555,"y":30},{"s":40,"x":560,"y":43},{"s":40,"x":565,"y":59},{"s":40,"x":570,"y":74},{"s":40,"x":575,"y":88},{"s":40,"x":580,"y":101},{"s":40,"x":585,"y":112},{"s":40,"x":590,"y":118},{"s":40,"x":595,"y":122},{"s":40,"x":600,"y":121},{"s":40,"x":605,"y":116},{"s":40,"x":610,"y":108},{"s":40,"x":615,"y":98},{"s":40,"x":620,"y":88},{"s":40,"x":630,"y":69},{"s":40,"x":640,"y":51},{"s":40,"x":650,"y":35},{"s":40,"x":660,"y":23},{"s":40,"x":670,"y":15},{"s":40,"x":685,"y":7.3},{"s":40,"x":700,"y":3.7},
{"s":41,"x":490,"y":0.2},{"s":41,"x":510,"y":0.4},{"s":41,"x":525,"y":1.1},{"s":41,"x":535,"y":3.3},{"s":41,"x":540,"y":5.7},{"s":41,"x":545,"y":9.5},{"s":41,"x":550,"y":16},{"s":41,"x":555,"y":25},{"s":41,"x":560,"y":37},{"s":41,"x":565,"y":49},{"s":41,"x":570,"y":62},{"s":41,"x":575,"y":75},{"s":41,"x":580,"y":85},{"s":41,"x":585,"y":94},{"s":41,"x":590,"y":100},{"s":41,"x":595,"y":103},{"s":41,"x":600,"y":102},{"s":41,"x":605,"y":98},{"s":41,"x":610,"y":91},{"s":41,"x":615,"y":83},{"s":41,"x":620,"y":75},{"s":41,"x":630,"y":58},{"s":41,"x":640,"y":43},{"s":41,"x":650,"y":30},{"s":41,"x":660,"y":20},{"s":41,"x":670,"y":12},{"s":41,"x":685,"y":6.2},{"s":41,"x":700,"y":3.1},
{"s":42,"x":490,"y":0.2},{"s":42,"x":510,"y":0.3},{"s":42,"x":525,"y":0.9},{"s":42,"x":535,"y":2.8},{"s":42,"x":540,"y":4.7},{"s":42,"x":545,"y":7.9},{"s":42,"x":550,"y":13},{"s":42,"x":555,"y":21},{"s":42,"x":560,"y":31},{"s":42,"x":565,"y":41},{"s":42,"x":570,"y":52},{"s":42,"x":575,"y":62},{"s":42,"x":580,"y":71},{"s":42,"x":585,"y":79},{"s":42,"x":590,"y":83},{"s":42,"x":595,"y":86},{"s":42,"x":600,"y":85},{"s":42,"x":605,"y":82},{"s":42,"x":610,"y":76},{"s":42,"x":615,"y":69},{"s":42,"x":620,"y":62},{"s":42,"x":630,"y":49},{"s":42,"x":640,"y":36},{"s":42,"x":650,"y":25},{"s":42,"x":660,"y":16},{"s":42,"x":670,"y":10},{"s":42,"x":685,"y":5.2},{"s":42,"x":700,"y":2.6}
]
},
"vconcat": [
{"hconcat": [
  {"width": 441, "height": 351, "data": {"name": "m7"},
   "layer": [
    {"mark": {"type": "line", "strokeWidth": 1.2, "interpolate": "monotone"},
     "encoding": {
      "x": {"field": "x", "type": "quantitative", "scale": {"domain": [490, 700], "nice": false, "zero": false}, "axis": {"orient": "bottom", "values": [500, 550, 600, 650, 700], "title": "λ (nm)", "tickSize": -6, "labelPadding": 14, "titlePadding": 15}},
      "y": {"field": "y", "type": "quantitative", "scale": {"domain": [0, 300], "nice": false}, "axis": {"orient": "left", "values": [0, 50, 100, 150, 200, 250, 300], "title": "I", "titleFontSize": 18, "titleY": 186, "tickSize": -6, "labelPadding": 11, "titlePadding": 27}},
      "color": {"field": "s", "type": "nominal", "legend": null, "scale": {"domain": [0,1,2,3,4,5,6,7,8,9,10,11,12,13,14,15,16,17,18,19,20,21,22,23,24,25,26,27,28,29,30,31,32,33,34,35,36,37,38,39,40,41,42], "range": ["#000000","#FF0000","#0000FF","#008080","#FF00FF","#808000","#000080","#800000","#FF0080","#000000","#FF0000","#0000FF","#008080","#FF00FF","#808000","#000080","#800000","#FF0080","#008000","#3333CC","#000000","#FF0000","#0000FF","#008080","#FF00FF","#808000","#000080","#800000","#000000","#FF0000","#0000FF","#008080","#FF00FF","#808000","#000080","#800000","#FF0080","#008000","#3333CC","#FF8000","#800080","#8000FF","#000000"]}}
     }},
    {"data": {"values": [{}]},
     "mark": {"type": "text", "align": "left", "baseline": "alphabetic", "font": "Liberation Sans", "fontSize": 26.5, "fontWeight": "bold", "lineHeight": 35, "color": "#000000"},
     "encoding": {
      "x": {"datum": 499.2, "type": "quantitative", "axis": {"orient": "bottom", "values": [525, 575, 625, 675], "labels": false, "title": null, "tickSize": -3.5}},
      "y": {"datum": 276.7, "type": "quantitative", "axis": {"orient": "left", "values": [25, 75, 125, 175, 225, 275], "labels": false, "tickSize": -3.5, "title": "P", "titleFontSize": 14, "titleY": 177.5, "titlePadding": 61, "minExtent": 0, "maxExtent": 0}},
      "text": {"value": ["p-methoxyphenol", "pH = 7.0"]}
     }},
    {"data": {"values": [{}]},
     "mark": {"type": "rule", "strokeWidth": 3, "color": "#000000"},
     "encoding": {"x": {"datum": 653, "type": "quantitative", "axis": null}, "y": {"datum": 254, "type": "quantitative", "axis": null}, "y2": {"datum": 144}}},
    {"data": {"values": [{}]},
     "mark": {"type": "point", "shape": "M-0.52,-1L0.52,-1L0,1Z", "filled": true, "opacity": 1, "color": "#000000", "size": 441, "strokeWidth": 0},
     "encoding": {"x": {"datum": 653, "type": "quantitative", "axis": null}, "y": {"datum": 136.9, "type": "quantitative", "axis": null}}}
   ],
   "resolve": {"axis": {"x": "independent", "y": "independent"}}
  },
  {"width": 309, "height": 351, "view": {"stroke": null}, "data": {"values": [{}]},
   "layer": [
    {"mark": {"type": "rule", "strokeWidth": 2.5, "color": "#000000"},
     "encoding": {"x": {"datum": 0.191, "type": "quantitative", "scale": {"domain": [0, 1]}, "axis": null}, "x2": {"datum": 0.563}, "y": {"datum": 0.462, "type": "quantitative", "scale": {"domain": [0, 1]}, "axis": null}}},
    {"mark": {"type": "point", "shape": "M-1,-0.95L1,0L-1,0.95Z", "filled": true, "opacity": 1, "color": "#000000", "size": 441, "strokeWidth": 0},
     "encoding": {"x": {"datum": 0.593, "type": "quantitative", "axis": null}, "y": {"datum": 0.462, "type": "quantitative", "axis": null}}}
   ]
  },
  {"width": 433, "height": 351, "data": {"name": "m10"},
   "layer": [
    {"mark": {"type": "line", "strokeWidth": 1.2, "interpolate": "monotone"},
     "encoding": {
      "x": {"field": "x", "type": "quantitative", "scale": {"domain": [490, 700], "nice": false, "zero": false}, "axis": {"orient": "bottom", "values": [500, 550, 600, 650, 700], "title": "λ (nm)", "tickSize": -6, "labelPadding": 14, "titlePadding": 15}},
      "y": {"field": "y", "type": "quantitative", "scale": {"domain": [0, 280], "nice": false}, "axis": {"orient": "left", "values": [0, 50, 100, 150, 200, 250], "title": "I", "titleFontSize": 18, "titleY": 186, "tickSize": -6, "labelPadding": 11, "titlePadding": 27}},
      "color": {"field": "s", "type": "nominal", "legend": null, "scale": {"domain": [0,1,2,3,4,5,6,7,8,9,10,11,12,13,14,15,16,17,18,19,20,21,22,23,24,25,26,27,28,29,30,31,32,33,34,35,36,37,38,39,40,41,42], "range": ["#000000","#FF0000","#0000FF","#008080","#FF00FF","#808000","#000080","#800000","#FF0080","#000000","#FF0000","#0000FF","#008080","#FF00FF","#808000","#000080","#800000","#FF0080","#008000","#3333CC","#000000","#FF0000","#0000FF","#008080","#FF00FF","#808000","#000080","#800000","#000000","#FF0000","#0000FF","#008080","#FF00FF","#808000","#000080","#800000","#FF0080","#008000","#3333CC","#FF8000","#800080","#8000FF","#000000"]}}
     }},
    {"data": {"values": [{}]},
     "mark": {"type": "text", "align": "left", "baseline": "alphabetic", "font": "Liberation Sans", "fontSize": 26.5, "fontWeight": "bold", "lineHeight": 35, "color": "#000000"},
     "encoding": {
      "x": {"datum": 495.4, "type": "quantitative", "axis": {"orient": "bottom", "values": [525, 575, 625, 675], "labels": false, "title": null, "tickSize": -3.5}},
      "y": {"datum": 254, "type": "quantitative", "axis": {"orient": "left", "values": [25, 75, 125, 175, 225, 275], "labels": false, "tickSize": -3.5, "title": "P", "titleFontSize": 14, "titleY": 177.5, "titlePadding": 61, "minExtent": 0, "maxExtent": 0}},
      "text": {"value": ["p-methoxyphenol", "pH = 10.4"]}
     }},
    {"data": {"values": [{}]},
     "mark": {"type": "rule", "strokeWidth": 3, "color": "#000000"},
     "encoding": {"x": {"datum": 640.4, "type": "quantitative", "axis": null}, "y": {"datum": 241.5, "type": "quantitative", "axis": null}, "y2": {"datum": 139}}},
    {"data": {"values": [{}]},
     "mark": {"type": "point", "shape": "M-0.56,-1L0.56,-1L0,1Z", "filled": true, "opacity": 1, "color": "#000000", "size": 400, "strokeWidth": 0},
     "encoding": {"x": {"datum": 640.4, "type": "quantitative", "axis": null}, "y": {"datum": 133.6, "type": "quantitative", "axis": null}}}
   ],
   "resolve": {"axis": {"x": "independent", "y": "independent"}}
  }
 ], "spacing": 0, "bounds": "flush"},
{"hconcat": [
  {"width": 442, "height": 351, "data": {"name": "n7"},
   "layer": [
    {"mark": {"type": "line", "strokeWidth": 1.2, "interpolate": "monotone"},
     "encoding": {
      "x": {"field": "x", "type": "quantitative", "scale": {"domain": [490, 700], "nice": false, "zero": false}, "axis": {"orient": "bottom", "values": [500, 550, 600, 650, 700], "title": "λ (nm)", "tickSize": -6, "labelPadding": 14, "titlePadding": 15}},
      "y": {"field": "y", "type": "quantitative", "scale": {"domain": [0, 274], "nice": false}, "axis": {"orient": "left", "values": [0, 50, 100, 150, 200, 250], "title": "I", "titleFontSize": 18, "titleY": 186, "tickSize": -6, "labelPadding": 11, "titlePadding": 27}},
      "color": {"field": "s", "type": "nominal", "legend": null, "scale": {"domain": [0,1,2,3,4,5,6,7,8,9,10,11,12,13,14,15,16,17,18,19,20,21,22,23,24,25,26,27,28,29,30,31,32,33,34,35,36,37,38,39,40,41,42], "range": ["#000000","#FF0000","#0000FF","#008080","#FF00FF","#808000","#000080","#800000","#FF0080","#000000","#FF0000","#0000FF","#008080","#FF00FF","#808000","#000080","#800000","#FF0080","#008000","#3333CC","#000000","#FF0000","#0000FF","#008080","#FF00FF","#808000","#000080","#800000","#000000","#FF0000","#0000FF","#008080","#FF00FF","#808000","#000080","#800000","#FF0080","#008000","#3333CC","#FF8000","#800080","#8000FF","#000000"]}}
     }},
    {"data": {"values": [{}]},
     "mark": {"type": "text", "align": "left", "baseline": "alphabetic", "font": "Liberation Sans", "fontSize": 26.5, "fontWeight": "bold", "lineHeight": 34, "color": "#000000"},
     "encoding": {
      "x": {"datum": 498.3, "type": "quantitative", "axis": {"orient": "bottom", "values": [525, 575, 625, 675], "labels": false, "title": null, "tickSize": -3.5}},
      "y": {"datum": 253, "type": "quantitative", "axis": {"orient": "left", "values": [25, 75, 125, 175, 225], "labels": false, "tickSize": -3.5, "title": "P", "titleFontSize": 14, "titleY": 177.5, "titlePadding": 61, "minExtent": 0, "maxExtent": 0}},
      "text": {"value": ["p-nitrophenol", "pH = 7.0"]}
     }},
    {"data": {"values": [{}]},
     "mark": {"type": "rule", "strokeWidth": 1.8, "color": "#000000"},
     "encoding": {"x": {"datum": 643.9, "type": "quantitative", "axis": null}, "y": {"datum": 237, "type": "quantitative", "axis": null}, "y2": {"datum": 138}}},
    {"data": {"values": [{}]},
     "mark": {"type": "point", "shape": "M-0.47,-1L0.47,-1L0,1Z", "filled": true, "opacity": 1, "color": "#000000", "size": 256, "strokeWidth": 0},
     "encoding": {"x": {"datum": 643.9, "type": "quantitative", "axis": null}, "y": {"datum": 134.2, "type": "quantitative", "axis": null}}}
   ],
   "resolve": {"axis": {"x": "independent", "y": "independent"}}
  },
  {"width": 301, "height": 351, "view": {"stroke": null}, "data": {"values": [{}]},
   "layer": [
    {"mark": {"type": "rule", "strokeWidth": 2.5, "color": "#000000"},
     "encoding": {"x": {"datum": 0.193, "type": "quantitative", "scale": {"domain": [0, 1]}, "axis": null}, "x2": {"datum": 0.575}, "y": {"datum": 0.479, "type": "quantitative", "scale": {"domain": [0, 1]}, "axis": null}}},
    {"mark": {"type": "point", "shape": "M-1,-0.95L1,0L-1,0.95Z", "filled": true, "opacity": 1, "color": "#000000", "size": 441, "strokeWidth": 0},
     "encoding": {"x": {"datum": 0.605, "type": "quantitative", "axis": null}, "y": {"datum": 0.479, "type": "quantitative", "axis": null}}}
   ]
  },
  {"width": 443, "height": 351, "data": {"name": "n10"},
   "layer": [
    {"mark": {"type": "line", "strokeWidth": 1.2, "interpolate": "monotone"},
     "encoding": {
      "x": {"field": "x", "type": "quantitative", "scale": {"domain": [490, 700], "nice": false, "zero": false}, "axis": {"orient": "bottom", "values": [500, 550, 600, 650, 700], "title": "λ (nm)", "tickSize": -6, "labelPadding": 14, "titlePadding": 15}},
      "y": {"field": "y", "type": "quantitative", "scale": {"domain": [0, 275], "nice": false}, "axis": {"orient": "left", "values": [0, 100, 200], "title": "I", "titleFontSize": 18, "titleY": 186, "tickSize": -6, "labelPadding": 11, "titlePadding": 27}},
      "color": {"field": "s", "type": "nominal", "legend": null, "scale": {"domain": [0,1,2,3,4,5,6,7,8,9,10,11,12,13,14,15,16,17,18,19,20,21,22,23,24,25,26,27,28,29,30,31,32,33,34,35,36,37,38,39,40,41,42], "range": ["#000000","#FF0000","#0000FF","#008080","#FF00FF","#808000","#000080","#800000","#FF0080","#000000","#FF0000","#0000FF","#008080","#FF00FF","#808000","#000080","#800000","#FF0080","#008000","#3333CC","#000000","#FF0000","#0000FF","#008080","#FF00FF","#808000","#000080","#800000","#000000","#FF0000","#0000FF","#008080","#FF00FF","#808000","#000080","#800000","#FF0080","#008000","#3333CC","#FF8000","#800080","#8000FF","#000000"]}}
     }},
    {"data": {"values": [{}]},
     "mark": {"type": "text", "align": "left", "baseline": "alphabetic", "font": "Liberation Sans", "fontSize": 26.5, "fontWeight": "bold", "lineHeight": 33, "color": "#000000"},
     "encoding": {
      "x": {"datum": 496.3, "type": "quantitative", "axis": {"orient": "bottom", "values": [525, 575, 625, 675], "labels": false, "title": null, "tickSize": -3.5}},
      "y": {"datum": 251, "type": "quantitative", "axis": {"orient": "left", "values": [50, 150, 250], "labels": false, "tickSize": -6, "title": "p", "titleFontSize": 14, "titleY": 177.5, "titlePadding": 61, "minExtent": 0, "maxExtent": 0}},
      "text": {"value": ["p-nitrophenol", "pH = 10.4"]}
     }},
    {"data": {"values": [{}]},
     "mark": {"type": "rule", "strokeWidth": 1.8, "color": "#000000"},
     "encoding": {"x": {"datum": 639.8, "type": "quantitative", "axis": null}, "y": {"datum": 237.5, "type": "quantitative", "axis": null}, "y2": {"datum": 149}}},
    {"data": {"values": [{}]},
     "mark": {"type": "point", "shape": "M-0.46,-1L0.46,-1L0,1Z", "filled": true, "opacity": 1, "color": "#000000", "size": 262, "strokeWidth": 0},
     "encoding": {"x": {"datum": 639.8, "type": "quantitative", "axis": null}, "y": {"datum": 145.4, "type": "quantitative", "axis": null}}}
   ],
   "resolve": {"axis": {"x": "independent", "y": "independent"}}
  }
 ], "spacing": 0, "bounds": "flush"}
]
}
